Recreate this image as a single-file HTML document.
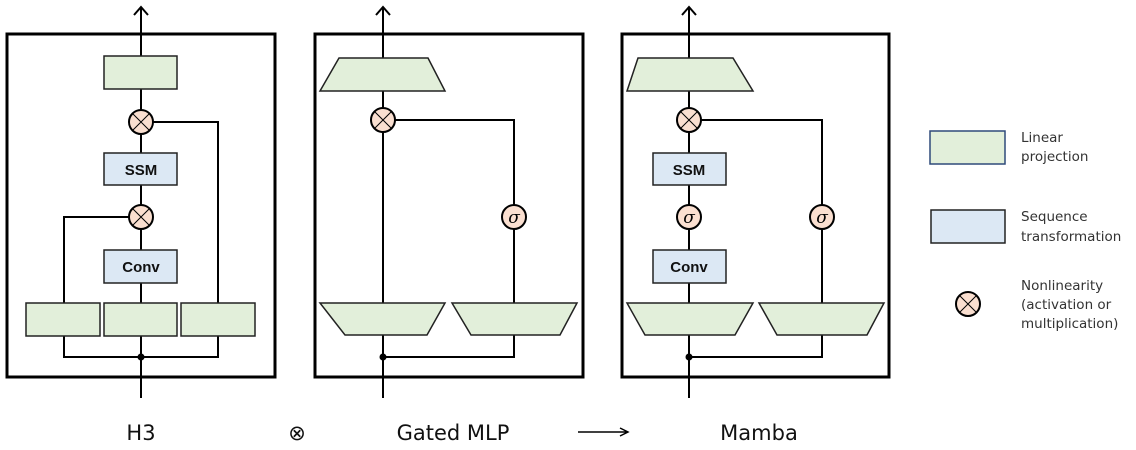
<!DOCTYPE html>
<html><head><meta charset="utf-8"><style>html,body{margin:0;padding:0;background:#fff}svg{display:block}</style></head><body>
<svg width="1136" height="450" viewBox="0 0 1136 450" xmlns="http://www.w3.org/2000/svg" font-family="DejaVu Sans, Liberation Sans, sans-serif">
<defs>
<g id="mul"><circle r="12" fill="#fadfd0" stroke="#000" stroke-width="2"/><path d="M-8,-8L8,8M8,-8L-8,8" stroke="#000" stroke-width="1"/></g>
<g id="sig"><circle r="12" fill="#fadfd0" stroke="#000" stroke-width="2"/><text y="6" text-anchor="middle" font-family="DejaVu Serif, serif" font-style="italic" font-size="17">σ</text></g>
</defs>
<g fill="none" stroke="#000">
<rect x="7" y="34" width="268" height="343" stroke-width="3"/>
<rect x="315" y="34" width="268" height="343" stroke-width="3"/>
<rect x="622" y="34" width="267" height="343" stroke-width="3"/>
<g stroke-width="2">
<path d="M141,8V398M134,15L141,7L148,15"/>
<path d="M383,8V398M376,15L383,7L390,15"/>
<path d="M689,8V398M682,15L689,7L696,15"/>
<path d="M64,336V357H218V336M141,122H218V303M64,303V217H141"/>
<path d="M383,120H514V303M383,357H514V335"/>
<path d="M689,120H822V303M689,357H822V335"/>
</g></g>
<g fill="#e2efda" stroke="#222" stroke-width="1.5">
<rect x="104" y="56" width="73" height="33"/>
<rect x="26" y="303" width="74" height="33"/><rect x="104" y="303" width="73" height="33"/><rect x="181" y="303" width="74" height="33"/>
<polygon points="339,58 428,58 445,91 320,91"/>
<polygon points="320,303 445,303 427,335 345,335"/>
<polygon points="452,303 577,303 560,335 471,335"/>
<polygon points="638,58 733,58 753,91 627,91"/>
<polygon points="627,303 753,303 735,335 645,335"/>
<polygon points="759,303 884,303 867,335 777,335"/>
<rect x="930" y="131" width="75" height="33" stroke="#2f4a7a"/>
</g>
<g fill="#dce8f4" stroke="#222" stroke-width="1.5">
<rect x="104" y="153" width="73" height="32"/><rect x="104" y="250" width="73" height="33"/>
<rect x="653" y="153" width="73" height="32"/><rect x="653" y="250" width="73" height="33"/>
<rect x="931" y="210" width="74" height="33"/>
</g>
<g font-weight="bold" font-size="15" text-anchor="middle" fill="#111" font-family="Liberation Sans Narrow, Liberation Sans, sans-serif">
<text x="141" y="175">SSM</text><text x="141" y="272">Conv</text>
<text x="689" y="175">SSM</text><text x="689" y="272">Conv</text>
</g>
<use href="#mul" x="141" y="122"/><use href="#mul" x="141" y="217"/>
<use href="#mul" x="383" y="120"/><use href="#sig" x="514" y="217"/>
<use href="#mul" x="689" y="120"/><use href="#sig" x="689" y="217"/><use href="#sig" x="822" y="217"/>
<use href="#mul" x="968" y="304"/>
<circle cx="141" cy="357" r="3.5"/><circle cx="383" cy="357" r="3.5"/><circle cx="689" cy="357" r="3.5"/>
<g font-size="21" text-anchor="middle" fill="#111">
<text x="141" y="440">H3</text><text x="297" y="440">⊗</text><text x="453" y="440">Gated MLP</text><text x="759" y="440">Mamba</text>
</g>
<path d="M578,432H627M620,428L628,432L620,436" fill="none" stroke="#000" stroke-width="1.5"/>
<g font-size="13.5" fill="#333">
<text x="1021" y="142">Linear</text><text x="1021" y="161">projection</text>
<text x="1021" y="221">Sequence</text><text x="1021" y="241">transformation</text>
<text x="1021" y="290">Nonlinearity</text><text x="1021" y="309">(activation or</text><text x="1021" y="328">multiplication)</text>
</g>
</svg>
</body></html>
